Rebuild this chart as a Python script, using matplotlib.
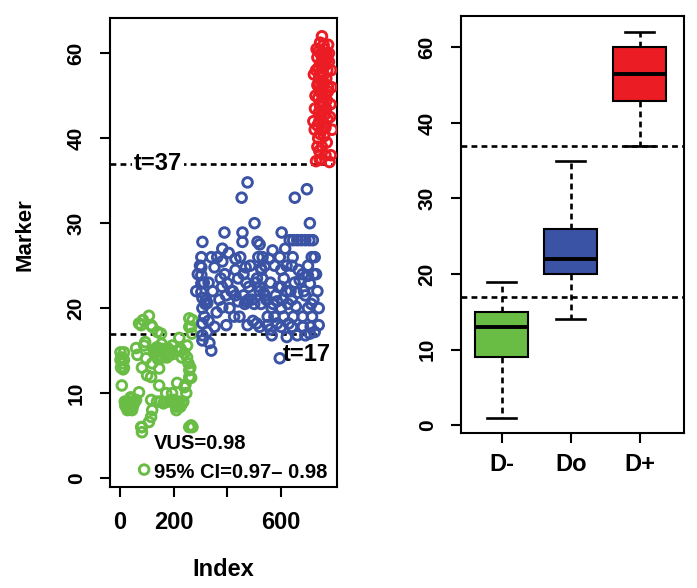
import numpy as np
import matplotlib
matplotlib.use("Agg")
import matplotlib.pyplot as plt

plt.rcParams['font.family'] = ['Liberation Sans', 'DejaVu Sans']
plt.rcParams['font.weight'] = 'bold'

# ---------------- data ----------------
green_x = [2, 2, 4, 15, 15, 15, 7, 22, 30, 38, 45, 52, 28, 60, 40, 71, 60, 71, 79, 90, 97, 82,
           108, 120, 116, 101, 120, 116, 116, 120, 116, 108, 82, 82, 79, 90,
           138, 150, 160, 170, 185, 146, 160, 175, 183, 195, 213, 221, 240, 250, 230, 250,
           146, 146, 172, 194, 213, 240, 258, 265, 258,
           138, 150, 162, 175, 190, 205, 220, 232, 209, 210, 225,
           247, 258, 270, 265, 258, 265, 270, 258, 153, 140,
           5, 10, 20, 26, 34, 48, 55, 65, 86, 94, 128, 132, 155, 166, 178, 188, 200, 218, 236, 262,
           12, 18, 35, 44, 126, 142, 168, 198, 226, 244, 255, 268]
green_y = [14.8, 13.9, 13.0, 14.8, 13.9, 13.0, 10.9, 8.8, 8.4, 9.0, 8.0, 8.8, 8.0, 9.2, 9.5, 10.1, 15.3, 18.2, 18.0, 15.6, 14.1, 13.0,
           19.1, 17.8, 18.0, 12.1, 13.5, 11.9, 9.2, 8.0, 7.2, 6.6, 6.0, 5.4, 6.0, 1.0,
           15.4, 15.0, 15.2, 14.8, 15.0, 14.4, 14.2, 14.2, 14.5, 15.6, 15.0, 16.5, 14.7, 15.6, 14.2, 14.2,
           12.9, 10.9, 10.0, 10.0, 11.2, 10.7, 11.9, 11.8, 12.7,
           9.0, 9.0, 8.8, 9.0, 9.0, 8.8, 9.0, 8.8, 8.4, 8.0, 8.4,
           10.0, 6.0, 6.0, 6.2, 18.8, 17.8, 18.6, 17.8, 17.0, 17.2,
           14.2, 13.5, 8.5, 9.0, 8.6, 8.4, 9.0, 14.5, 18.6, 16.0, 14.8, 15.2, 15.8, 14.6, 15.3, 14.9, 9.2, 8.6, 9.0, 13.0,
           12.8, 9.0, 8.2, 9.4, 15.0, 14.0, 15.0, 14.6, 15.2, 11.0, 13.5, 17.0]

blue_x = [284, 290, 303, 303, 303, 303, 303, 307, 307, 307, 314, 307, 325, 340, 307, 333, 307, 325, 352, 352, 340, 330, 345,
          381, 389, 381, 390, 400, 381, 408, 396, 370, 395,
          430, 430, 440, 430, 445, 456, 456, 453, 475, 460, 460, 465, 470, 480, 485, 490, 500, 501, 512, 509, 520, 495, 475,
          531, 527, 520, 540, 520, 525, 530, 520, 525, 545, 550,
          568, 595, 602, 643, 714, 651, 696, 707,
          632, 645, 660, 675, 690, 705, 718,
          575, 600, 620, 640, 610, 669, 707, 590, 560,
          580, 605, 640, 690, 720, 565, 600, 625, 655, 700, 575, 610, 645, 680, 715,
          600, 640, 680, 710, 565, 660, 690, 621, 681, 707, 595,
          550, 560, 585, 620, 650, 680, 700, 730, 725, 735, 740, 740, 725,
          320, 360, 420, 470, 540, 600, 660, 330, 380, 440, 510, 570, 635, 700,
          298, 312, 318, 362, 375, 405, 415, 425, 448, 468, 478, 505, 515, 535, 555, 585, 615, 628, 665, 685, 712, 722]
blue_y = [22, 24, 26, 24.8, 23.9, 22.9, 21.9, 27.8, 21.2, 20, 19, 18.2, 17.2, 15, 16.2, 15.9, 16.8, 20.6, 24.8, 17.8, 26, 23, 22,
          27, 28.9, 25.5, 24, 22.9, 20.1, 20, 18, 21, 21.5,
          25.8, 24.5, 23.5, 21.5, 19, 28.9, 27.8, 33, 34.8, 24, 21.5, 20.5, 20.8, 22.5, 25, 21, 20.5, 30, 27.8, 18.2, 17.8, 18.5, 18,
          26, 24.5, 22.5, 25, 27.5, 24.7, 23.5, 22, 20.5, 21, 19,
          26.8, 26, 28.9, 26, 26, 33, 34, 30,
          28, 28, 28, 28, 28, 28, 28,
          25, 24.5, 25, 25, 23.5, 23.3, 22.9, 22.5, 23,
          21.5, 21, 21, 21.5, 21, 20, 20, 20.5, 20.2, 20, 19, 19, 19, 19, 19,
          17.8, 17.8, 17.8, 17.8, 16.8, 16.8, 16.8, 16.6, 17.8, 17, 14.1,
          18, 17.5, 18.2, 22, 23, 24, 25, 24, 26, 22, 20, 18, 17.2,
          21, 19.5, 22, 23, 21.5, 22.5, 21.8, 18.5, 22.5, 20.8, 23.5, 20.5, 22, 23.8,
          25, 23, 20.5, 26, 23.5, 26.5, 22, 19, 26, 24.8, 21, 23, 26, 21.8, 25.8, 20.8, 27, 18.2, 24.5, 22, 20.5, 24]

red_x = [752, 745, 760, 740, 765, 750, 735, 770, 755, 745, 762, 738, 772, 750, 758, 742, 768, 748, 760, 735,
         775, 752, 743, 765, 755, 738, 770, 748, 760, 745, 768, 752, 740, 762, 750, 772, 742, 758, 735, 765,
         750, 745, 760, 738, 770, 752, 742, 765, 750, 780, 730, 725, 728, 782, 778, 785,
         722, 732, 758, 778, 788, 726, 748, 762, 784, 730, 775, 740, 790, 735, 756, 768, 720, 786, 744, 774]
red_y = [64, 62.5, 61, 60.5, 60, 59.5, 59, 58.5, 58, 57.5, 57, 56.5, 56, 55.5, 55, 54.5, 54, 53.5, 53, 52.5,
         52, 51.5, 51, 50.5, 50, 49.5, 49, 48.5, 48, 47.5, 47, 46.5, 46, 45.5, 45, 44.5, 44, 43.5, 43, 42.5,
         42, 41, 40.5, 40, 39.5, 39, 38.5, 38, 37.5, 37.2, 37.3, 42, 50, 45, 58, 38,
         55, 61, 62, 60, 52, 47, 60, 58, 48, 56, 62, 53, 42, 39, 60, 60, 44, 56, 37.5, 51]

thresholds = [37, 17]
threshold_labels = ["t=37", "t=17"]

groups = ["D-", "Do", "D+"]
box_whislo = [1, 14, 37]
box_q1 = [9, 20, 45.8]
box_med = [13, 22, 53]
box_q3 = [15, 26, 60]
box_whishi = [19, 35, 64]

y_ticks = [0, 10, 20, 30, 40, 60]
x_ticks = [0, 200, 400, 600]
x_ticklabels = ["0", "200", "", "600"]

GREEN = "#69bd45"
BLUE = "#3a53a4"
RED = "#ec1c24"

# piecewise axis: above 40 the scale is compressed by 2
def fwd(y):
    y = np.asarray(y, dtype=float)
    return np.where(y <= 40, y, 40 + (y - 40) / 2.0)

def inv(u):
    u = np.asarray(u, dtype=float)
    return np.where(u <= 40, u, 40 + (u - 40) * 2.0)

fig = plt.figure(figsize=(6.97, 5.88), dpi=100)
axL = fig.add_axes([110/697, 1-487/588, 227/697, 469/588])
axR = fig.add_axes([461/697, 1-433/588, 223/697, 417/588])

DASH = (0, (2.2, 1.6))

for ax in (axL, axR):
    ax.set_yscale('function', functions=(fwd, inv))
    ax.set_ylim(-1.05, 68.3)
    ax.set_yticks(y_ticks)
    ax.set_yticklabels([str(v) for v in y_ticks], rotation=90, va='center',
                       fontsize=15, fontweight='bold')
    ax.tick_params(axis='both', length=7.5, width=1.5, direction='out', color='black')
    for s in ax.spines.values():
        s.set_linewidth(1.5)
        s.set_color('black')
    ax.minorticks_off()

# ---------------- left: scatter ----------------
msize = 48
lw = 2.1
axL.scatter(green_x, green_y, s=msize, facecolors='none', edgecolors=GREEN, linewidths=lw, zorder=3)
axL.scatter(blue_x, blue_y, s=msize, facecolors='none', edgecolors=BLUE, linewidths=lw, zorder=3)
axL.scatter(red_x, red_y, s=msize, facecolors='none', edgecolors=RED, linewidths=lw, zorder=3)

axL.axhline(thresholds[0], xmin=0, xmax=0.98, color='black', lw=1.9, linestyle=DASH, zorder=2)
axL.axhline(thresholds[1], xmin=0, xmax=0.91, color='black', lw=1.9, linestyle=DASH, zorder=2)
axL.text(142, thresholds[0], threshold_labels[0], ha='center', va='center', fontsize=17,
         fontweight='bold', zorder=4, bbox=dict(facecolor='white', edgecolor='none', pad=1.5))
axL.text(697, 14.6, threshold_labels[1], ha='center', va='center', fontsize=17,
         fontweight='bold', zorder=4)
axL.text(127, 4.1, "VUS=0.98", ha='left', va='center', fontsize=14.5, fontweight='bold', zorder=4)
axL.text(127, 0.7, "95% CI=0.97\u2013 0.98", ha='left', va='center', fontsize=14.5, fontweight='bold', zorder=4)

axL.set_xlim(-37, 808)
axL.set_xticks(x_ticks)
axL.set_xticklabels(x_ticklabels, fontsize=17, fontweight='bold')
axL.tick_params(axis='x', pad=10)
axL.tick_params(axis='y', pad=10)

fig.text(25/697, 1-235/588, "Marker", rotation=90, ha='center', va='center', fontsize=16, fontweight='bold')
fig.text(223/697, 1-570/588, "Index", ha='center', va='center', fontsize=17, fontweight='bold')

# ---------------- right: boxplot ----------------
stats = []
for i, g in enumerate(groups):
    stats.append(dict(label=g, whislo=box_whislo[i], q1=box_q1[i], med=box_med[i],
                      q3=box_q3[i], whishi=box_whishi[i], fliers=[]))
bp = axR.bxp(stats, positions=[1, 2, 3], widths=0.77, patch_artist=True, showfliers=False,
             boxprops=dict(edgecolor='black', linewidth=1.5),
             medianprops=dict(color='black', linewidth=2.8),
             whiskerprops=dict(color='black', linewidth=1.9, linestyle=DASH),
             capprops=dict(color='black', linewidth=1.9),
             capwidths=0.42)
for patch, c in zip(bp['boxes'], [GREEN, BLUE, RED]):
    patch.set_facecolor(c)

for t in thresholds:
    axR.axhline(t, color='black', lw=1.9, linestyle=DASH, zorder=1)

axR.set_xlim(0.41, 3.64)
axR.set_xticks([1, 2, 3])
axR.set_xticklabels(groups, fontsize=17, fontweight='bold')
axR.tick_params(axis='x', pad=7)
axR.tick_params(axis='y', pad=10)

fig.savefig("out.png", dpi=100, facecolor='white')
